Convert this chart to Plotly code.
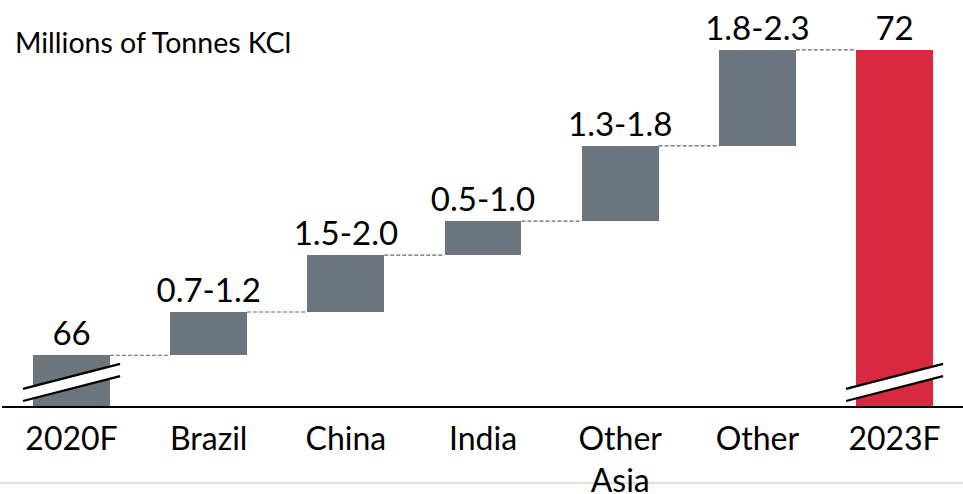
import plotly.graph_objects as go

# ---- data (millions of tonnes KCl) ----
categories = ["2020F", "Brazil", "China", "India", "Other<br>Asia", "Other", "2023F"]
start_value = 66
increments = [0.85, 1.12, 0.67, 1.48, 1.89]   # visual heights of the range bars
end_value = 72
value_labels = ["66", "0.7-1.2", "1.5-2.0", "0.5-1.0", "1.3-1.8", "1.8-2.3", "72"]
axis_floor = 65.0  # broken axis starts here

# ---- layout constants ----
W, H = 963, 494
ml, mr, mt, mb = 2, 0, 10, 88
plot_h = H - mt - mb
px_per_unit = 50.8
y_top = axis_floor + plot_h / px_per_unit
bar_w = 0.56
gray = "#6a757e"
red = "#d92940"
font_family = "Lato, 'Open Sans', sans-serif"

# cumulative levels
tops = [start_value]
for inc in increments:
    tops.append(tops[-1] + inc)

xs = list(range(len(categories)))
bases = [axis_floor] + tops[:-1] + [axis_floor]
bar_tops = tops + [end_value]
heights = [t - b for t, b in zip(bar_tops, bases)]
colors = [gray] * (len(categories) - 1) + [red]

fig = go.Figure()

fig.add_trace(go.Bar(
    x=xs, y=heights, base=bases, width=bar_w,
    marker=dict(color=colors, line=dict(width=0)),
    text=value_labels, textposition="outside", constraintext="none",
    textfont=dict(size=33, color="black", family=font_family),
    cliponaxis=False, hoverinfo="skip", showlegend=False,
))

# dashed connectors
for i in range(len(categories) - 1):
    lvl = bar_tops[i]
    fig.add_trace(go.Scatter(
        x=[xs[i] + bar_w / 2, xs[i + 1] - bar_w / 2], y=[lvl, lvl],
        mode="lines", line=dict(color="#666666", width=1.1, dash="4px,2px"),
        hoverinfo="skip", showlegend=False,
    ))

# axis break marks on first and last bar
hw = 0.354
rise = 0.49
y0 = axis_floor + 0.098
gap = 0.24
for i in (xs[0], xs[-1]):
    fig.add_trace(go.Scatter(
        x=[i - hw, i + hw, i + hw, i - hw, i - hw],
        y=[y0, y0 + rise, y0 + rise + gap, y0 + gap, y0],
        mode="lines", fill="toself", fillcolor="white",
        line=dict(width=0, color="white"), hoverinfo="skip", showlegend=False,
    ))
    for off in (0, gap):
        fig.add_trace(go.Scatter(
            x=[i - hw, i + hw], y=[y0 + off, y0 + rise + off],
            mode="lines", line=dict(color="black", width=2.2),
            hoverinfo="skip", showlegend=False,
        ))

x_lo = -0.507
x_hi = 6.499

fig.update_layout(
    width=W, height=H,
    margin=dict(l=ml, r=mr, t=mt, b=mb),
    paper_bgcolor="white", plot_bgcolor="white",
    font=dict(family=font_family, color="black"),
    bargap=0,
    xaxis=dict(
        range=[x_lo, x_hi], tickvals=xs, ticktext=categories,
        tickfont=dict(size=32, color="black", family=font_family),
        ticklabelstandoff=4, automargin=False,
        showgrid=False, zeroline=False, showline=True, linecolor="black", linewidth=2,
        ticks="", fixedrange=True,
    ),
    yaxis=dict(range=[axis_floor, y_top], visible=False, fixedrange=True),
    annotations=[dict(
        text="Millions of Tonnes KCl", xref="paper", yref="paper",
        x=(13 - ml) / (W - ml - mr), y=(H - mb - 42) / plot_h,
        xanchor="left", yanchor="middle", showarrow=False,
        font=dict(size=28.5, color="black", family=font_family),
    )],
    shapes=[dict(
        type="line", xref="paper", yref="paper", x0=-0.01, x1=1.01,
        y0=(H - mb - 483) / plot_h, y1=(H - mb - 483) / plot_h,
        line=dict(color="#e4d6c2", width=1.5), layer="below",
    )],
)

fig.write_html(
    "out.html",
    config={"displayModeBar": False, "staticPlot": True},
    post_script="document.body.style.margin='0px';",
)
